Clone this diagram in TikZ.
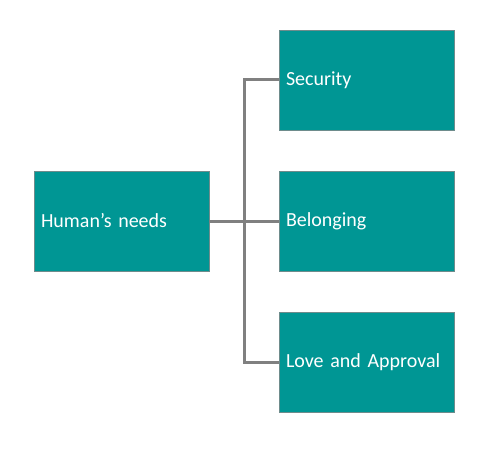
\documentclass[tikz,border=0pt]{standalone}
\usepackage{fontspec}
\setmainfont{Carlito}
\usepackage{tikz}
\usetikzlibrary{positioning,calc}
\definecolor{needteal}{HTML}{009694}
\definecolor{neededge}{HTML}{6E8C8C}
\definecolor{linkgray}{HTML}{808080}

\begin{document}
\begin{tikzpicture}[
  x=1pt,y=-1pt,
  need/.style={rectangle,draw=neededge,line width=0.8pt,fill=needteal,
               minimum height=100pt,text width=161pt,inner xsep=7pt,
               align=left,text=white,font=\fontsize{20}{24}\selectfont},
  link/.style={draw=linkgray,line width=3pt}
]
  \useasboundingbox (0,0) rectangle (498,460);
  % root and its three needs
  \node[need] (human) at (121.5,221) {Human’s needs};
  \node[need] (sec)   at (366.5,80)  {Security};
  \node[need] (bel)   at (366.5,221) {Belonging};
  \node[need] (love)  at (366.5,362) {Love and Approval};

  % tree connector
  \coordinate (fork) at (244,221);
  \draw[link] (human.east) -- (bel.west);
  \draw[link] (fork) |- (sec.west);
  \draw[link] (fork) |- (love.west);
\end{tikzpicture}
\end{document}
